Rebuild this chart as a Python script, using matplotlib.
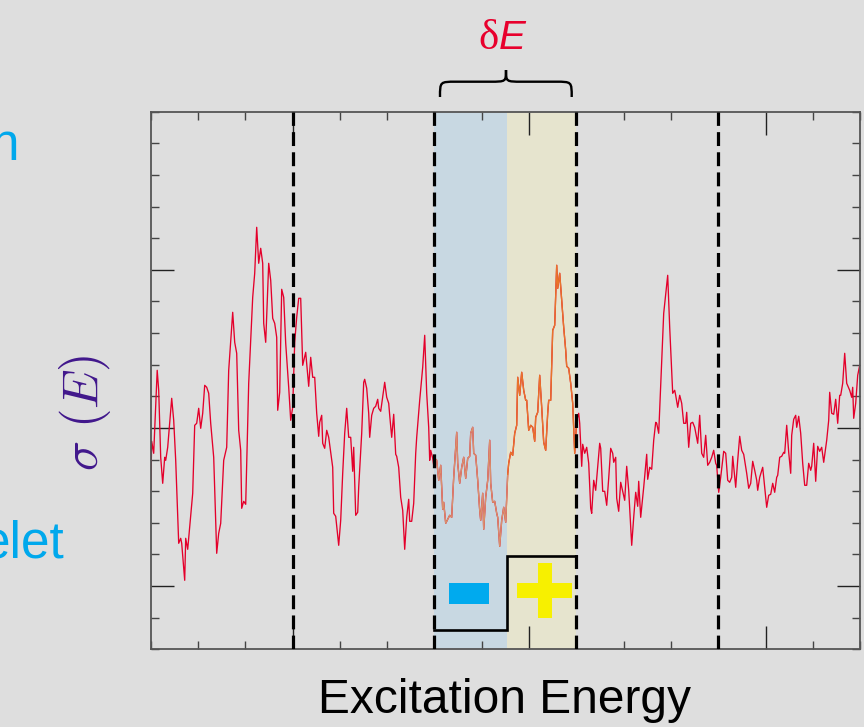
import numpy as np
import matplotlib
matplotlib.use("Agg")
import matplotlib.pyplot as plt
from matplotlib.path import Path
from matplotlib.patches import PathPatch, Rectangle

plt.rcParams['lines.scale_dashes'] = False

# ---- data (arbitrary units) ----
energy = [0, 1, 3, 6.5, 8, 10, 12, 14, 15, 17, 21, 23, 25, 28, 30, 31, 34, 35, 37, 39, 42, 44, 46, 48, 50,
          52, 54, 56, 58, 60, 63, 66, 68, 70, 73, 76, 78, 82, 84, 86, 88, 90, 91, 93, 95, 98, 102, 104, 106,
          108, 110, 112, 113, 115, 118, 120, 122, 124, 126, 127, 129, 131, 133, 135, 138, 140, 142, 144, 146,
          148, 150, 152, 155, 158, 160, 162, 164, 166, 168, 169, 171, 172, 174, 176, 178, 182, 183, 185, 188,
          190, 192, 194, 196, 198, 200, 202, 203, 205, 207, 208, 211, 213, 214, 216, 218, 219, 221, 223, 225,
          227, 228, 230, 234, 236, 238, 239, 241, 243, 245, 246, 248, 250, 252, 254, 256, 258, 259, 261, 263,
          265, 266, 269, 272, 274, 276, 278, 279, 280, 282, 283,
          284, 286, 288, 290, 292, 293, 295, 297, 299, 301, 303, 306, 307, 309, 311, 313, 315, 317, 319, 320,
          322, 323, 325, 327, 329, 330, 332, 333, 335, 337, 339, 340, 342, 344, 346, 347, 349, 351, 353, 355,
          357, 358, 360, 362, 364, 366, 367, 369, 371, 373, 375, 376, 378, 380, 382, 384, 385, 387, 389, 391,
          393, 395, 397, 398, 400, 402, 404, 406, 407, 409, 411, 413, 415, 416, 418, 420, 422, 424, 426,
          428, 429, 431, 432, 434, 436, 438, 440, 441, 443, 445, 449, 450, 452, 454, 456, 458, 460, 462, 463,
          465, 466, 468, 470, 474, 476, 478, 481, 483, 485, 487, 488, 490, 493, 496, 497, 499, 501, 503, 505,
          506, 508, 511, 513, 517, 519, 522, 524, 525, 527, 529, 531, 533, 535, 536, 538, 540, 542, 544, 547,
          549, 551, 553, 555, 557, 559, 561, 563, 565, 566, 568, 570, 573, 575, 577, 579, 581, 582, 585, 587,
          589, 591, 593, 596, 598, 600, 602, 604, 606, 607, 609, 612, 614, 616, 618, 620, 622, 624, 626, 627,
          629, 631, 633, 634, 636, 638, 640, 641, 643, 645, 646, 648, 650, 652, 654, 656, 658, 660, 661, 663,
          665, 667, 669, 671, 673, 676, 678, 679, 681, 683, 685, 687, 689, 690, 692, 694, 696, 699, 701, 702,
          703, 705, 707, 709]
sigma = [159, 208, 196, 279, 259, 192, 166, 192, 189, 202, 251, 229, 189, 106, 111, 106, 69, 111, 100, 122,
         156, 224, 226, 241, 221, 236, 264, 262, 256, 226, 192, 96, 116, 126, 189, 202, 279, 337, 307, 296,
         219, 199, 141, 148, 145, 266, 352, 376, 422, 386, 401, 386, 326, 307, 386, 369, 331, 326, 312, 239,
         257, 360, 352, 306, 262, 229, 242, 307, 332, 351, 351, 284, 297, 263, 292, 272, 272, 236, 213, 227,
         234, 206, 201, 219, 212, 182, 136, 133, 104, 129, 176, 216, 241, 212, 212, 178, 202, 134, 137, 162,
         216, 267, 270, 261, 236, 212, 234, 241, 243, 250, 241, 238, 267, 252, 246, 234, 212, 235, 195, 193,
         182, 152, 139, 100, 132, 150, 128, 128, 146, 196, 212, 249, 282, 314, 256, 222, 189, 199, 191, 184,
         191, 189, 169, 184, 140, 147, 126, 130, 134, 132, 172, 217, 186, 166, 182, 192, 171, 191, 193, 216,
         222, 196, 194, 169, 139, 129, 156, 120, 152, 169, 209, 166, 147, 148, 136, 132, 103, 129, 142, 127,
         175, 186, 197, 194, 216, 224, 272, 254, 277, 259, 249, 249, 219, 224, 222, 208, 232, 237, 274, 242,
         207, 199, 236, 249, 249, 319, 324, 384, 361, 376, 349, 322, 299, 283, 281, 266, 246, 196, 229,
         236, 226, 183, 205, 196, 202, 186, 141, 136, 169, 159, 206, 201, 158, 158, 144, 171, 201, 196, 187,
         192, 151, 138, 167, 149, 183, 159, 104, 132, 157, 143, 168, 132, 162, 195, 170, 182, 180, 209, 227,
         226, 216, 289, 336, 374, 322, 256, 259, 254, 242, 254, 246, 226, 226, 237, 202, 226, 227, 222, 206,
         234, 196, 192, 214, 184, 187, 192, 199, 186, 184, 157, 172, 198, 196, 169, 167, 172, 193, 162, 189,
         213, 199, 195, 176, 161, 166, 188, 179, 169, 159, 172, 182, 162, 142, 154, 155, 166, 157, 172, 174,
         192, 193, 197, 196, 224, 197, 176, 214, 230, 234, 222, 233, 216, 186, 164, 164, 186, 179, 183, 206,
         168, 203, 198, 202, 187, 209, 229, 257, 236, 235, 250, 226, 254, 254, 266, 296, 266, 259, 252, 262,
         231, 246, 274, 284]

x_max, y_max = 709.5, 537.6
n_xint, n_yint = 15, 17
x_major_idx = [3, 8, 13]
y_major_idx = [2, 7, 12]
window_idx = [3, 6, 9, 12]          # dashed lines (in x-tick units)
split_E = 356.6                     # boundary between the "-" and "+" halves
step_low, step_high = 19.3, 93.3

bg = '#DEDEDE'
red = '#E4002B'
fig = plt.figure(figsize=(8.64, 7.27), dpi=100, facecolor=bg)
ax = fig.add_axes([150.7/864, 1-649.3/727, (860.2-150.7)/864, (649.3-111.7)/727])
ax.set_facecolor(bg)
ax.set_xlim(0, x_max)
ax.set_ylim(0, y_max)

dx = x_max / n_xint
dy = y_max / n_yint
xw0, xw1 = window_idx[1]*dx, window_idx[2]*dx

ax.axvspan(xw0, split_E, color='#C8D8E2', lw=0, zorder=0)
ax.axvspan(split_E, xw1, color='#E6E4CE', lw=0, zorder=0)

E = np.array(energy, float)
S = np.array(sigma, float)
ax.plot(E, S, color=red, lw=0.95, zorder=2)
m1 = (E >= xw0 - 1) & (E <= split_E + 0.5)
m2 = (E >= split_E - 0.5) & (E <= xw1 + 0.5)
ax.plot(E[m1], S[m1], color='#D9906C', lw=0.95, zorder=3)
ax.plot(E[m2], S[m2], color='#E8742A', lw=0.95, zorder=3)

for k in window_idx:
    ax.axvline(k*dx, color='black', lw=2.3, dashes=(10, 4.5), zorder=4)

# step function
ax.plot([xw0, split_E, split_E, xw1], [step_low, step_low, step_high, step_high],
        color='black', lw=1.9, zorder=5, solid_joinstyle='miter')

# minus and plus signs
ax.add_patch(Rectangle((298.3, 45.6), 40, 21, color='#00AAEE', lw=0, zorder=5))
ax.add_patch(Rectangle((366.6, 51.6), 54.7, 14.4, color='#F7F000', lw=0, zorder=5))
ax.add_patch(Rectangle((387.3, 31.0), 14, 55, color='#F7F000', lw=0, zorder=5))

# ticks
ax.set_xticks([i*dx for i in x_major_idx])
ax.set_xticks([i*dx for i in range(n_xint+1) if i not in x_major_idx], minor=True)
ax.set_yticks([i*dy for i in y_major_idx])
ax.set_yticks([i*dy for i in range(n_yint+1) if i not in y_major_idx], minor=True)
ax.tick_params(which='both', direction='in', top=True, right=True,
               labelbottom=False, labelleft=False)
ax.tick_params(which='major', length=16.5, width=1.0, color='#222222')
ax.tick_params(which='minor', length=6, width=1.0, color='#444444')
for s in ax.spines.values():
    s.set_color('#555555')
    s.set_linewidth(1.3)

# brace above the window
x0b, x1b, xc = 289.3, 421.0, 355.3
y0b, yh, ytip = 552.3, 567.6, 579.3
r = 16
verts = [(x0b, y0b), (x0b, yh), (x0b, yh), (x0b+r, yh), (xc-r, yh), (xc, yh), (xc, yh), (xc, ytip),
         (xc, yh), (xc, yh), (xc+r, yh), (x1b-r, yh), (x1b, yh), (x1b, yh), (x1b, y0b)]
codes = [Path.MOVETO, Path.CURVE4, Path.CURVE4, Path.CURVE4, Path.LINETO, Path.CURVE4, Path.CURVE4, Path.CURVE4,
         Path.CURVE4, Path.CURVE4, Path.CURVE4, Path.LINETO, Path.CURVE4, Path.CURVE4, Path.CURVE4]
ax.add_patch(PathPatch(Path(verts, codes), fill=False, lw=1.7, color='black', clip_on=False))

# delta E label
ax.text(348.0, 600.3, 'δ', family='Liberation Serif', fontsize=31, color='#E8002D',
        ha='right', va='baseline', clip_on=False)
ax.text(348.5, 600.3, 'E', family='Liberation Sans', style='italic', fontsize=29, color='#E8002D',
        ha='left', va='baseline', clip_on=False)

# axis labels
fig.text(505/864, 1-713/727, 'Excitation Energy', family='Liberation Sans', fontsize=34.5,
         ha='center', va='baseline', color='black')
fig.text(85/864, 1-413/727, r'$\sigma\ (E)$', math_fontfamily='cm', fontsize=36, rotation=90,
         ha='center', va='center', color='#41178C')

# cut-off slide text at the left edge
fig.text(19/864, 1-160/727, 'n', family='Liberation Sans', fontsize=37, color='#00A8EC',
         ha='right', va='baseline')
fig.text(65/864, 1-558/727, 'elet', family='Liberation Sans', fontsize=37, color='#00A8EC',
         ha='right', va='baseline')

fig.savefig('out.png', dpi=100, facecolor=bg)
